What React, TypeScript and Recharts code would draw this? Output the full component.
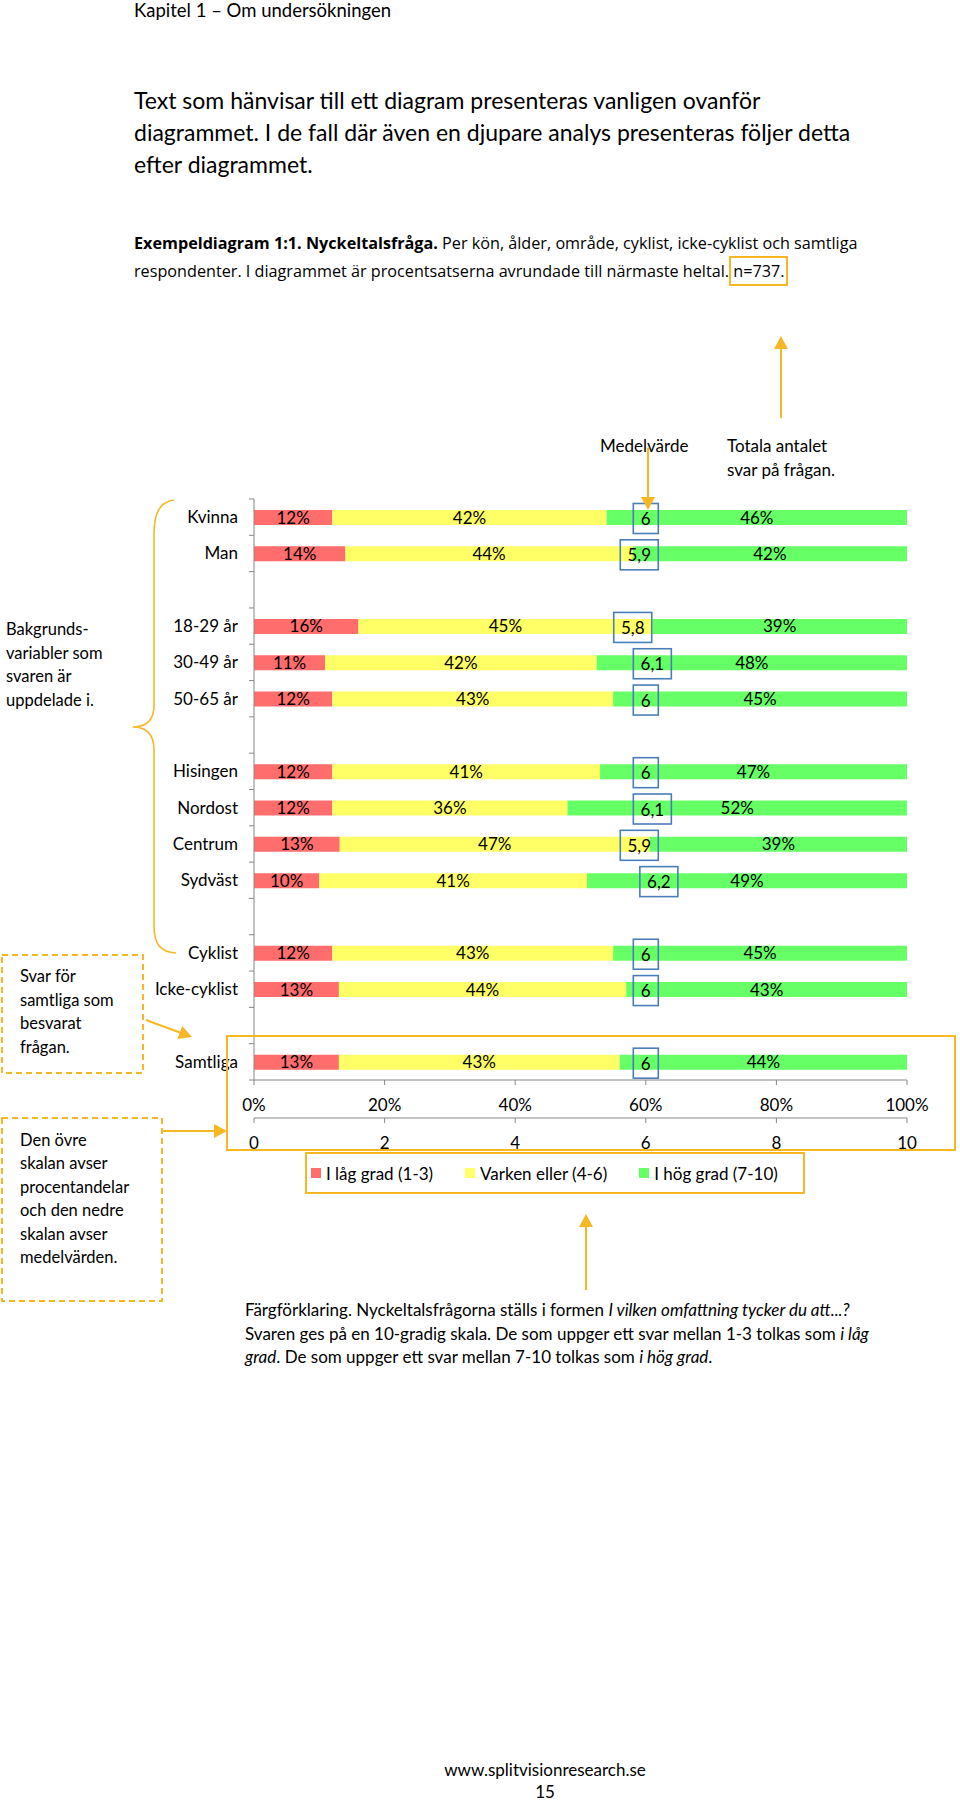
import React from "react";
import { BarChart, Bar, XAxis, YAxis, LabelList, Legend } from "recharts";

const categories = ["Kvinna", "Man", "18-29 år", "30-49 år", "50-65 år", "Hisingen", "Nordost", "Centrum", "Sydväst", "Cyklist", "Icke-cyklist", "Samtliga"];
const lowPct = [12, 14, 16, 11, 12, 12, 12, 13, 10, 12, 13, 13];
const midPct = [42, 44, 45, 42, 43, 41, 36, 47, 41, 43, 44, 43];
const highPct = [46, 42, 39, 48, 45, 47, 52, 39, 49, 45, 43, 44];
const meanValues = [6, 5.9, 5.8, 6.1, 6, 6, 6.1, 5.9, 6.2, 6, 6, 6];
const blankAfter = [1, 4, 8, 10];
const seriesNames = ["I låg grad (1-3)", "Varken eller (4-6)", "I hög grad (7-10)"];
const seriesColors = ["#FF6D6D", "#FFFF66", "#66FF66"];
const pctTicks = [0, 20, 40, 60, 80, 100];
const meanTicks = [0, 2, 4, 6, 8, 10];

const FONT = "Lato, 'Open Sans', sans-serif";
const GOLD = "#F5B824";
const AXIS = "#868686";
const CAT_MARGIN = 16;

type Row = { key: string; label: string; low?: number; mid?: number; high?: number; lowS?: number; midS?: number; highS?: number; mean?: number };
const rows: Row[] = [];
categories.forEach((c, i) => {
  const tot = lowPct[i] + midPct[i] + highPct[i];
  rows.push({
    key: "r" + i,
    label: c,
    low: lowPct[i],
    mid: midPct[i],
    high: highPct[i],
    lowS: (lowPct[i] / tot) * 100,
    midS: (midPct[i] / tot) * 100,
    highS: (highPct[i] / tot) * 100,
    mean: meanValues[i],
  });
  if (blankAfter.includes(i)) rows.push({ key: "gap" + i, label: "" });
});
const labelOf: Record<string, string> = {};
rows.forEach((r) => (labelOf[r.key] = r.label));

const fmtMean = (v: number) => (Number.isInteger(v) ? String(v) : v.toFixed(1).replace(".", ","));
const fmtPct = (v: any) => (v == null ? "" : `${v}%`);

const MeanBox = (props: any) => {
  const { x, y, width, height, payload } = props;
  if (!payload || payload.mean == null) return null;
  const cx = x + width;
  const cy = y + height / 2;
  const t = fmtMean(payload.mean);
  const w = t.length > 1 ? 38 : 25;
  return (
    <g>
      <rect x={cx - w / 2} y={cy - 14} width={w} height={30} fill="none" stroke="#4A7EBB" strokeWidth={1.6} />
      <text x={cx} y={cy + 1} textAnchor="middle" dominantBaseline="central" fontSize={17} fontFamily={FONT} fill="#000">
        {t}
      </text>
    </g>
  );
};

const CatTick = (props: any) => {
  const { x, y, payload, index } = props;
  const off = payload && typeof payload.offset === "number" && payload.offset > 0 ? payload.offset : 18.15;
  const ax = x + CAT_MARGIN;
  const isLast = index === rows.length - 1;
  return (
    <g>
      <line x1={ax - 5} y1={y - off} x2={ax} y2={y - off} stroke={AXIS} strokeWidth={1} />
      {isLast && <line x1={ax - 5} y1={y + off} x2={ax} y2={y + off} stroke={AXIS} strokeWidth={1} />}
      <text x={x} y={y} dy="0.35em" textAnchor="end" fontSize={17} fontFamily={FONT} fill="#000">
        {labelOf[payload.value] ?? ""}
      </text>
    </g>
  );
};

const LegendContent = (props: any) => {
  const items = (props.payload || [])
    .filter((p: any) => seriesNames.includes(p.value))
    .sort((a: any, b: any) => seriesNames.indexOf(a.value) - seriesNames.indexOf(b.value));
  return (
    <div style={{ display: "flex", alignItems: "center", height: 40, width: 520, paddingLeft: 5, fontFamily: FONT, fontSize: 17, color: "#000", whiteSpace: "nowrap" }}>
      {items.map((e: any) => (
        <div key={e.value} style={{ display: "flex", alignItems: "center", marginRight: 32, flexShrink: 0, whiteSpace: "nowrap" }}>
          <span style={{ display: "inline-block", width: 10, height: 10, background: e.color, marginRight: 5 }} />
          <span>{e.value}</span>
        </div>
      ))}
    </div>
  );
};

function Arrow({ x1, y1, x2, y2, head = 13, half = 7, w = 2 }: any) {
  const dx = x2 - x1, dy = y2 - y1;
  const len = Math.hypot(dx, dy);
  const ux = dx / len, uy = dy / len;
  const bx = x2 - ux * head, by = y2 - uy * head;
  const px = -uy, py = ux;
  return (
    <g>
      <line x1={x1} y1={y1} x2={bx} y2={by} stroke={GOLD} strokeWidth={w} />
      <polygon points={`${x2},${y2} ${bx + px * half},${by + py * half} ${bx - px * half},${by - py * half}`} fill={GOLD} />
    </g>
  );
}

const abs = (left: number, top: number, extra: any = {}) => ({ position: "absolute" as const, left, top, fontFamily: FONT, color: "#000", whiteSpace: "nowrap" as const, ...extra });

export default function App() {
  return (
    <div style={{ position: "absolute", left: 0, top: 0, width: 960, height: 1802, background: "#fff", overflow: "hidden" }}>
      <div style={abs(134, 0, { fontSize: 18.5, lineHeight: "20px" })}>Kapitel 1 – Om undersökningen</div>
      <div style={abs(134, 84, { fontSize: 23, lineHeight: "32.2px" })}>
        Text som hänvisar till ett diagram presenteras vanligen ovanför
        <br />
        diagrammet. I de fall där även en djupare analys presenteras följer detta
        <br />
        efter diagrammet.
      </div>
      <div style={abs(134, 230, { fontSize: 16.2, lineHeight: "27.6px", fontFamily: "'Open Sans', sans-serif" })}>
        <b>Exempeldiagram 1:1. Nyckeltalsfråga.</b> Per kön, ålder, område, cyklist, icke-cyklist och samtliga
        <br />
        respondenter. I diagrammet är procentsatserna avrundade till närmaste heltal.{" "}
        <span style={{ outline: `2px solid ${GOLD}`, outlineOffset: 2 }}>n=737.</span>
      </div>

      <div style={abs(600, 434, { fontSize: 17, lineHeight: "24px" })}>Medelvärde</div>
      <div style={abs(727, 434, { fontSize: 17, lineHeight: "23.5px" })}>
        Totala antalet
        <br />
        svar på frågan.
      </div>

      <div style={abs(6, 618, { fontSize: 16.5, lineHeight: "23.6px" })}>
        Bakgrunds-
        <br />
        variabler som
        <br />
        svaren är
        <br />
        uppdelade i.
      </div>
      <div style={abs(20, 965, { fontSize: 16.5, lineHeight: "23.5px" })}>
        Svar för
        <br />
        samtliga som
        <br />
        besvarat
        <br />
        frågan.
      </div>
      <div style={abs(20, 1129, { fontSize: 16.5, lineHeight: "23.4px" })}>
        Den övre
        <br />
        skalan avser
        <br />
        procentandelar
        <br />
        och den nedre
        <br />
        skalan avser
        <br />
        medelvärden.
      </div>

      <div style={{ position: "absolute", left: 0, top: 480 }}>
        <BarChart width={960} height={700} data={rows} layout="vertical" margin={{ top: 19, right: 53, bottom: 24, left: 0 }}>
          <YAxis
            yAxisId="cat"
            type="category"
            dataKey="key"
            width={254}
            stroke={AXIS}
            tickLine={false}
            tickSize={0}
            tickMargin={CAT_MARGIN}
            interval={0}
            tick={CatTick}
          />
          <YAxis yAxisId="meanCat" type="category" dataKey="key" hide />
          <XAxis
            xAxisId="b_mean"
            type="number"
            domain={[0, 10]}
            ticks={meanTicks}
            interval={0}
            allowDataOverflow
            height={38}
            tickSize={5}
            tickMargin={14}
            stroke={AXIS}
            tick={{ fill: "#000", fontSize: 17, fontFamily: FONT }}
          />
          <XAxis
            xAxisId="a_pct"
            type="number"
            domain={[0, 100]}
            ticks={pctTicks}
            interval={0}
            allowDataOverflow
            tickFormatter={(v: number) => `${v}%`}
            height={38}
            tickSize={5}
            tickMargin={14}
            stroke={AXIS}
            tick={{ fill: "#000", fontSize: 17, fontFamily: FONT }}
          />
          {(["low", "mid", "high"] as const).map((k, i) => (
            <Bar
              key={k}
              dataKey={k + "S"}
              name={seriesNames[i]}
              stackId="s"
              xAxisId="a_pct"
              yAxisId="cat"
              fill={seriesColors[i]}
              barSize={15}
              isAnimationActive={false}
            >
              <LabelList dataKey={k} position="center" formatter={fmtPct} fill="#000" fontSize={17} fontFamily={FONT} />
            </Bar>
          ))}
          <Bar
            dataKey="mean"
            xAxisId="b_mean"
            yAxisId="meanCat"
            fill="none"
            barSize={15}
            legendType="none"
            shape={MeanBox}
            isAnimationActive={false}
          />
          <Legend
            layout="horizontal"
            verticalAlign="middle"
            align="center"
            content={LegendContent}
            wrapperStyle={{ position: "absolute", left: 306, top: 673, width: 498, height: 40 }}
          />
        </BarChart>
      </div>

      <div style={abs(245, 1298, { fontSize: 17, lineHeight: "23.5px" })}>
        Färgförklaring. Nyckeltalsfrågorna ställs i formen <i>I vilken omfattning tycker du att...?</i>
        <br />
        Svaren ges på en 10-gradig skala. De som uppger ett svar mellan 1-3 tolkas som <i>i låg</i>
        <br />
        <i>grad</i>. De som uppger ett svar mellan 7-10 tolkas som <i>i hög grad</i>.
      </div>
      <div style={abs(345, 1759, { width: 400, textAlign: "center", fontSize: 17, lineHeight: "22px" })}>
        www.splitvisionresearch.se
        <br />
        15
      </div>

      <svg width={960} height={1802} style={{ position: "absolute", left: 0, top: 0, pointerEvents: "none" }}>
        <Arrow x1={781} y1={418} x2={781} y2={336} />
        <Arrow x1={648} y1={448} x2={648} y2={510} />
        <path
          d="M 174 500 C 160 502, 154 512, 154 535 L 154 705 C 154 720, 146 727, 133 727 C 146 727, 154 734, 154 750 L 154 925 C 154 944, 160 952, 176 953"
          fill="none"
          stroke={GOLD}
          strokeWidth={1.6}
        />
        <rect x={2} y={955} width={141} height={118} fill="none" stroke={GOLD} strokeWidth={2} strokeDasharray="6 4" />
        <Arrow x1={146} y1={1020} x2={192} y2={1037} />
        <rect x={227} y={1036} width={728} height={114} fill="none" stroke={GOLD} strokeWidth={2} />
        <rect x={2} y={1118} width={160} height={183} fill="none" stroke={GOLD} strokeWidth={2} strokeDasharray="6 4" />
        <Arrow x1={163} y1={1131} x2={227} y2={1131} />
        <rect x={306} y={1153} width={498} height={40} fill="none" stroke={GOLD} strokeWidth={2} />
        <Arrow x1={586} y1={1290} x2={586} y2={1214} />
      </svg>
    </div>
  );
}
